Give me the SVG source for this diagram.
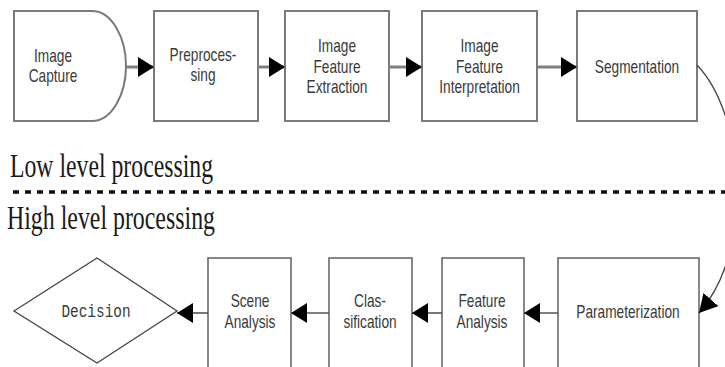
<svg xmlns="http://www.w3.org/2000/svg" width="725" height="367" viewBox="0 0 725 367">
<style>
.box{fill:#fff;stroke:#7a7a7a;stroke-width:2}
.bbox{fill:#fff;stroke:#6a6a6a;stroke-width:1.6}
.t{font-family:"Liberation Sans",Arial,sans-serif;font-size:18px;fill:#3a3a3a;text-anchor:middle}
.lbl{font-family:"Liberation Serif","Times New Roman",serif;font-size:33px;fill:#1a1a1a}
.mono{font-family:"Liberation Mono","Courier New",monospace;font-size:18px;fill:#3a3a3a;text-anchor:middle}
.conn{stroke:#808080;stroke-width:3;fill:none}
.conn2{stroke:#555;stroke-width:1.6;fill:none}
</style>
<defs>
<marker id="ah" markerWidth="16" markerHeight="20" refX="16" refY="10" orient="auto" markerUnits="userSpaceOnUse">
<path d="M0,0 L16,10 L0,20 Z" fill="#000"/>
</marker>
<marker id="ah2" markerWidth="18" markerHeight="20" refX="18" refY="10" orient="auto" markerUnits="userSpaceOnUse">
<path d="M0,0 L18,10 L0,20 Z" fill="#000"/>
</marker>
</defs>

<g id="capture">
<path class="box" d="M14,11 L92,11 C112,11 126,38 126,66 C126,94 112,121 92,121 L14,121 Z"/>
<text class="t" transform="translate(53 0) scale(0.76 1)"><tspan x="0" y="62">Image</tspan><tspan x="0" y="82">Capture</tspan></text>
</g>
<g id="preprocessing">
<rect class="box" x="154" y="11" width="104" height="110"/>
<text class="t" transform="translate(203 0) scale(0.76 1)"><tspan x="0" y="61">Preproces-</tspan><tspan x="0" y="81">sing</tspan></text>
</g>
<g id="extraction">
<rect class="box" x="285" y="11" width="104" height="110"/>
<text class="t" transform="translate(337 0) scale(0.76 1)"><tspan x="0" y="52">Image</tspan><tspan x="0" y="73">Feature</tspan><tspan x="0" y="93">Extraction</tspan></text>
</g>
<g id="interpretation">
<rect class="box" x="422" y="11" width="115" height="110"/>
<text class="t" transform="translate(479.5 0) scale(0.76 1)"><tspan x="0" y="52">Image</tspan><tspan x="0" y="73">Feature</tspan><tspan x="0" y="93">Interpretation</tspan></text>
</g>
<g id="segmentation">
<rect class="box" x="577" y="11" width="120" height="110"/>
<text class="t" transform="translate(637 0) scale(0.76 1)"><tspan x="0" y="73">Segmentation</tspan></text>
</g>

<g id="labels">
<text class="lbl" x="10" y="177" textLength="203" lengthAdjust="spacingAndGlyphs">Low level processing</text>
<line x1="13" y1="192" x2="725" y2="192" stroke="#111" stroke-width="3.5" stroke-dasharray="6,6"/>
<text class="lbl" x="7" y="229" textLength="208" lengthAdjust="spacingAndGlyphs">High level processing</text>
</g>

<g id="decision">
<path d="M14,311 L97,258 L177,311 L97,363 Z" fill="#fff" stroke="#444" stroke-width="1.3"/>
<text class="mono" transform="translate(96 0) scale(0.8 1)"><tspan x="0" y="317">Decision</tspan></text>
</g>
<g id="scene">
<rect class="bbox" x="208" y="258" width="83" height="120"/>
<text class="t" transform="translate(250 0) scale(0.76 1)"><tspan x="0" y="307">Scene</tspan><tspan x="0" y="328">Analysis</tspan></text>
</g>
<g id="classification">
<rect class="bbox" x="329" y="258" width="83" height="120"/>
<text class="t" transform="translate(370 0) scale(0.76 1)"><tspan x="0" y="307">Clas-</tspan><tspan x="0" y="328">sification</tspan></text>
</g>
<g id="featureanalysis">
<rect class="bbox" x="442" y="258" width="82" height="120"/>
<text class="t" transform="translate(482 0) scale(0.76 1)"><tspan x="0" y="307">Feature</tspan><tspan x="0" y="328">Analysis</tspan></text>
</g>
<g id="parameterization">
<rect class="bbox" x="558" y="258" width="141" height="120"/>
<text class="t" transform="translate(628 0) scale(0.76 1)"><tspan x="0" y="318">Parameterization</tspan></text>
</g>

<g id="connectors">
<line class="conn" x1="126" y1="67" x2="154" y2="67" marker-end="url(#ah)"/>
<line class="conn" x1="258" y1="67" x2="285" y2="67" marker-end="url(#ah)"/>
<line class="conn" x1="389" y1="67" x2="422" y2="67" marker-end="url(#ah)"/>
<line class="conn" x1="537" y1="67" x2="577" y2="67" marker-end="url(#ah)"/>
<path d="M697,65 C745,115 755,250 699,313" fill="none" stroke="#444" stroke-width="1.3" marker-end="url(#ah2)"/>
<line class="conn2" x1="558" y1="313" x2="524" y2="313" marker-end="url(#ah)"/>
<line class="conn2" x1="442" y1="313" x2="412" y2="313" marker-end="url(#ah)"/>
<line class="conn2" x1="329" y1="313" x2="291" y2="313" marker-end="url(#ah)"/>
<line class="conn2" x1="208" y1="313" x2="177" y2="313" marker-end="url(#ah)"/>
</g>
</svg>
